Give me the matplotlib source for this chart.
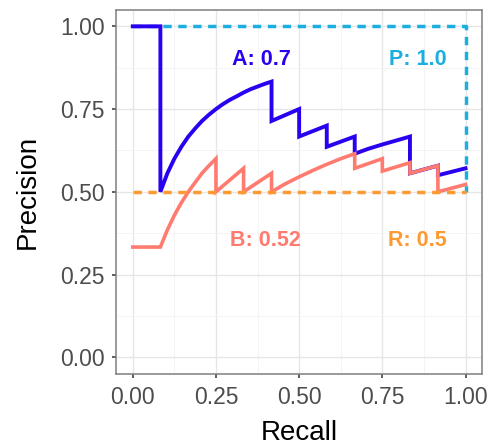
import numpy as np
import matplotlib
matplotlib.use("Agg")
import matplotlib.pyplot as plt
from matplotlib.ticker import MultipleLocator

plt.rcParams['font.family'] = ['Liberation Sans', 'DejaVu Sans']

# curve A (recall, precision)
recall_a = [0.0, 0.083, 0.083, 0.104, 0.125, 0.146, 0.167, 0.188, 0.208, 0.229, 0.25,
            0.271, 0.292, 0.313, 0.333, 0.354, 0.375, 0.396, 0.417,
            0.417, 0.5, 0.5, 0.583, 0.583, 0.667, 0.667, 0.708, 0.75, 0.792, 0.833,
            0.833, 0.917, 0.917, 1.0]
prec_a = [1.0, 1.0, 0.5, 0.556, 0.6, 0.636, 0.667, 0.692, 0.714, 0.733, 0.75,
          0.765, 0.778, 0.789, 0.8, 0.81, 0.818, 0.826, 0.833,
          0.714, 0.75, 0.667, 0.7, 0.636, 0.667, 0.615, 0.63, 0.643, 0.655, 0.667,
          0.556, 0.579, 0.55, 0.571]

# curve B
recall_b = [0.0, 0.083, 0.104, 0.125, 0.146, 0.167, 0.188, 0.208, 0.229, 0.25,
            0.25, 0.333, 0.333, 0.417, 0.417,
            0.458, 0.5, 0.542, 0.583, 0.625, 0.667, 0.667, 0.75, 0.75, 0.833, 0.833,
            0.917, 0.917, 1.0]
prec_b = [0.333, 0.333, 0.385, 0.429, 0.467, 0.5, 0.529, 0.556, 0.579, 0.6,
          0.5, 0.571, 0.5, 0.556, 0.5,
          0.524, 0.545, 0.565, 0.583, 0.6, 0.615, 0.571, 0.6, 0.5625, 0.588, 0.556,
          0.579, 0.5, 0.522]

# perfect (P) and random (R) reference lines
recall_p = [0.0, 1.0, 1.0]
prec_p = [1.0, 1.0, 0.5]
recall_r = [0.0, 1.0]
prec_r = [0.5, 0.5]

labels = ["A: 0.7", "P: 1.0", "B: 0.52", "R: 0.5"]
col_a, col_b, col_p, col_r = '#2A00F0', '#FF7B70', '#1AAFE0', '#FF9A33'

fig = plt.figure(figsize=(4.9, 4.45), dpi=100)
ax = fig.add_axes([0.237, 0.160, 0.747, 0.818])

ax.plot(recall_p, prec_p, color=col_p, lw=2.5, dashes=(2.4, 1.9), dash_capstyle='butt', zorder=2)
ax.plot(recall_a, prec_a, color=col_a, lw=2.8, solid_joinstyle='miter', zorder=3)
ax.plot(recall_b, prec_b, color=col_b, lw=2.6, solid_joinstyle='miter', zorder=4)
ax.plot(recall_r, prec_r, color=col_r, lw=2.5, dashes=(2.4, 1.9), dash_capstyle='butt', zorder=5)

kw = dict(fontsize=15.5, fontweight='bold', ha='center', va='center')
ax.text(0.387, 0.9, labels[0], color=col_a, **kw)
ax.text(0.857, 0.9, labels[1], color=col_p, **kw)
ax.text(0.40, 0.354, labels[2], color=col_b, **kw)
ax.text(0.855, 0.354, labels[3], color=col_r, **kw)

ax.set_xlim(-0.05, 1.05)
ax.set_ylim(-0.05, 1.05)
ax.xaxis.set_major_locator(MultipleLocator(0.25))
ax.yaxis.set_major_locator(MultipleLocator(0.25))
ax.xaxis.set_minor_locator(MultipleLocator(0.125))
ax.yaxis.set_minor_locator(MultipleLocator(0.125))
ax.xaxis.set_major_formatter(lambda v, p: f"{v:.2f}")
ax.yaxis.set_major_formatter(lambda v, p: f"{v:.2f}")
ax.grid(which='major', color='#E6E6E6', lw=1.0, zorder=0)
ax.grid(which='minor', color='#F2F2F2', lw=0.6, zorder=0)
ax.set_axisbelow(True)
for s in ax.spines.values():
    s.set_color('#7F7F7F')
    s.set_linewidth(1.1)
ax.tick_params(which='major', length=3, width=1.1, color='#333333',
               labelsize=16.5, labelcolor='#4D4D4D')
ax.tick_params(axis='x', which='major', pad=6)
ax.tick_params(axis='y', which='major', pad=5)
ax.tick_params(which='minor', length=0)

ax.set_xlabel('Recall', fontsize=20, labelpad=8)
ax.set_ylabel('Precision', fontsize=20, labelpad=14)

fig.savefig('out.png', dpi=100)
plt.close(fig)
